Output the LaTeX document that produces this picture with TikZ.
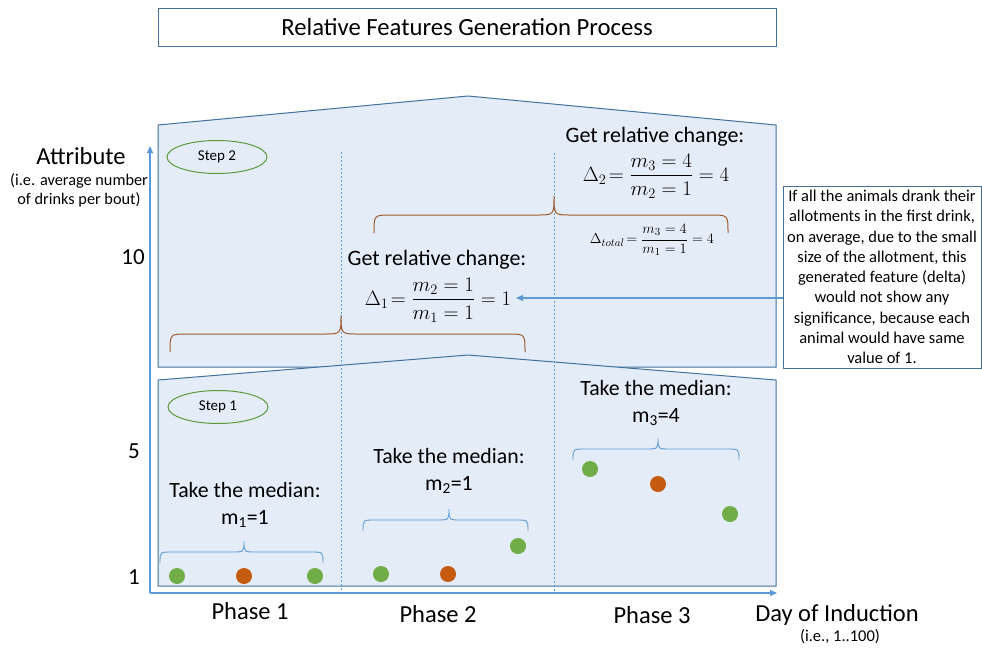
\documentclass[tikz,border=0pt]{standalone}
\usepackage{amsmath}
\usepackage{fontspec}
\setmainfont{Carlito}
\usetikzlibrary{arrows.meta,shapes.geometric}
\definecolor{boxfill}{HTML}{E4ECF7}
\definecolor{boxline}{HTML}{41719C}
\definecolor{axisblue}{HTML}{5B9BD5}
\definecolor{dotgreen}{HTML}{70AD47}
\definecolor{dotorange}{HTML}{C55A11}
\definecolor{bracebrown}{HTML}{9E5A2C}
\definecolor{ellgreen}{HTML}{5E9A3B}
\newcommand\fsz[1]{\fontsize{#1}{#1}\selectfont}
% #1 x1, #2 x2, #3 xtip, #4 yEnd, #5 yMid, #6 yTip, #7 h, #8 style
\newcommand\mybrace[8]{%
  \draw[#8] (#1,#4) .. controls (#1,#5) .. ({#1+#7},#5) -- ({#3-#7},#5)
    .. controls (#3,#5) .. (#3,#6) .. controls (#3,#5) .. ({#3+#7},#5)
    -- ({#2-#7},#5) .. controls (#2,#5) .. (#2,#4);}
\begin{document}
\begin{tikzpicture}[x=1pt,y=-1pt,
  pent/.style={draw=boxline,fill=boxfill,line width=1pt,line join=miter},
  axisline/.style={draw=axisblue,line width=1.1pt,-{Triangle[length=7pt,width=6pt]}},
  dotline/.style={draw=axisblue,line width=0.8pt,dash pattern=on 2pt off 2pt},
  gdot/.style={circle,fill=dotgreen,minimum size=16pt,inner sep=0pt},
  odot/.style={circle,fill=dotorange,minimum size=16pt,inner sep=0pt},
  stepell/.style={ellipse,draw=ellgreen,line width=1pt,minimum width=100pt,minimum height=33pt,inner sep=0pt,font=\fsz{15}},
  bigtxt/.style={font=\fsz{24.5},inner sep=0pt},
  midtxt/.style={font=\fsz{22},inner sep=0pt},
  medtxt/.style={font=\fontsize{21.8}{27}\selectfont,align=center,inner sep=0pt},
  bluebrace/.style={draw=axisblue,line width=0.9pt},
  brownbrace/.style={draw=bracebrown,line width=1pt},
]
\useasboundingbox (0,0) rectangle (982,648);
% title
\node[draw=boxline,line width=1pt,minimum width=618pt,minimum height=38pt,inner sep=0pt,font=\fsz{24.7}] (title) at (467,27) {Relative Features Generation Process};
% boxes
\draw[pent] (158,367) -- (158,125) -- (468,96) -- (776,125) -- (776,367) -- cycle;
\draw[pent] (158,586) -- (158,380) -- (468,355) -- (776,380) -- (776,586) -- cycle;
% phase separators
\coordinate (s1t) at (341,152); \coordinate (s1b) at (341,593);
\coordinate (s2t) at (554,153); \coordinate (s2b) at (554,593);
\draw[dotline] (s1t) -- (s1b);
\draw[dotline] (s2t) -- (s2b);
% axes
\coordinate (O) at (150,593);
\coordinate (ytop) at (150,146);
\coordinate (xend) at (777,593);
\draw[axisline] (O) -- (ytop);
\draw[axisline] (O) -- (xend);
% axis labels
\node[bigtxt] (attr) at (81,156) {Attribute};
\node[font=\fontsize{16.3}{19}\selectfont,align=center,inner sep=0pt] (attrsub) at (79,190) {(i.e. average number\\of drinks per bout)};
\node[font=\fsz{23},inner sep=0pt,anchor=east] (t10) at (145,257) {10};
\node[font=\fsz{23},inner sep=0pt,anchor=east] (t5) at (140,451) {5};
\node[font=\fsz{23},inner sep=0pt,anchor=east] (t1) at (140,577) {1};
\node[bigtxt] (ph1) at (250,611) {Phase 1};
\node[bigtxt] (ph2) at (438,614) {Phase 2};
\node[bigtxt] (ph3) at (652,615) {Phase 3};
\node[bigtxt] (day) at (837,615) {Day of Induction};
\node[font=\fsz{16.5},inner sep=0pt] (daysub) at (840,637) {(i.e., 1..100)};
% steps
\node[stepell] (st2) at (217,157) {Step 2};
\node[stepell] (st1) at (218,407) {Step 1};
% dots
\node[gdot] (a1) at (177,576) {};
\node[odot] (a2) at (244,576) {};
\node[gdot] (a3) at (315,576) {};
\node[gdot] (b1) at (381,574) {};
\node[odot] (b2) at (448,574) {};
\node[gdot] (b3) at (518,546) {};
\node[gdot] (c1) at (590,469) {};
\node[odot] (c2) at (658,484) {};
\node[gdot] (c3) at (730,514) {};
% blue braces
\mybrace{160}{323}{244}{563}{552}{541}{12}{bluebrace}
\mybrace{363}{528}{449}{531}{520}{509}{12}{bluebrace}
\mybrace{573}{739}{658}{460}{449}{438}{12}{bluebrace}
% medians
\node[medtxt] (med1) at (245,505) {Take the median:\\m\textsubscript{1}=1};
\node[medtxt] (med2) at (449,471) {Take the median:\\m\textsubscript{2}=1};
\node[medtxt] (med3) at (656,403) {Take the median:\\m\textsubscript{3}=4};
% brown braces
\mybrace{170}{525}{341}{352}{334}{315}{17}{brownbrace}
\mybrace{374}{728}{554}{233}{215}{196}{17}{brownbrace}
% relative change 1
\node[midtxt] (rel1) at (437,260) {Get relative change:};
\node[inner sep=0pt,font=\fsz{22.5}] (eq1) at (438,300) {$\Delta_1\!=\dfrac{m_2=1}{m_1=1}=1$};
% relative change 2
\node[midtxt] (rel2) at (655,137) {Get relative change:};
\node[inner sep=0pt,font=\fsz{22.5}] (eq2) at (656,176) {$\Delta_2\!=\dfrac{m_3=4}{m_2=1}=4$};
\node[inner sep=0pt,font=\fsz{15.5}] (eq3) at (652,240) {$\Delta_{total}\!=\dfrac{m_3=4}{m_1=1}=4$};
% note
\node[draw=boxline,line width=1pt,fill=white,minimum width=198pt,minimum height=182pt,inner sep=0pt,align=center,font=\fontsize{16.5}{20.3}\selectfont] (note) at (882,277) {If all the animals drank their\\allotments in the first drink,\\on average, due to the small\\size of the allotment, this\\generated feature (delta)\\would not show any\\significance, because each\\animal would have same\\value of 1.};
\coordinate (aS) at (783,298);
\coordinate (aE) at (516,298);
\draw[draw=axisblue,line width=1.1pt,-{Triangle[length=7pt,width=6pt]}] (aS) -- (aE);
\end{tikzpicture}
\end{document}
